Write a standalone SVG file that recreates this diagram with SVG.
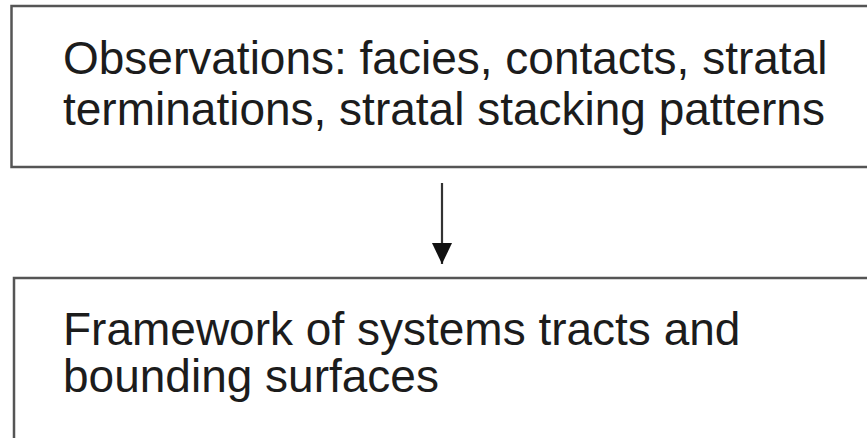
<svg xmlns="http://www.w3.org/2000/svg" width="867" height="438" viewBox="0 0 867 438">
<style>
.box{fill:#fff;stroke:#555;stroke-width:2.5}
.t{font-family:"Liberation Sans",Arial,sans-serif;font-size:46px;fill:#1c1c1c}
.c{stroke:#333;stroke-width:2.2;fill:none}
</style>
<defs>
<marker id="ah" markerWidth="21" markerHeight="22" viewBox="0 0 22 21" refX="22" refY="10.5" orient="auto" markerUnits="userSpaceOnUse">
<path d="M0,0 L22,10.5 L0,21 Z" fill="#111"/>
</marker>
</defs>
<rect width="867" height="438" fill="#fff"/>
<g id="node-observations">
<rect class="box" x="11.5" y="6" width="870" height="161"/>
<text class="t" x="63" y="74">Observations: facies, contacts, stratal</text>
<text class="t" x="63" y="125">terminations, stratal stacking patterns</text>
</g>
<g id="node-framework">
<rect class="box" x="14" y="278" width="870" height="180"/>
<text class="t" x="63" y="345">Framework of systems tracts and</text>
<text class="t" x="63" y="392">bounding surfaces</text>
</g>
<g id="connectors">
<line class="c" x1="442" y1="183" x2="442" y2="264" marker-end="url(#ah)"/>
</g>
</svg>
